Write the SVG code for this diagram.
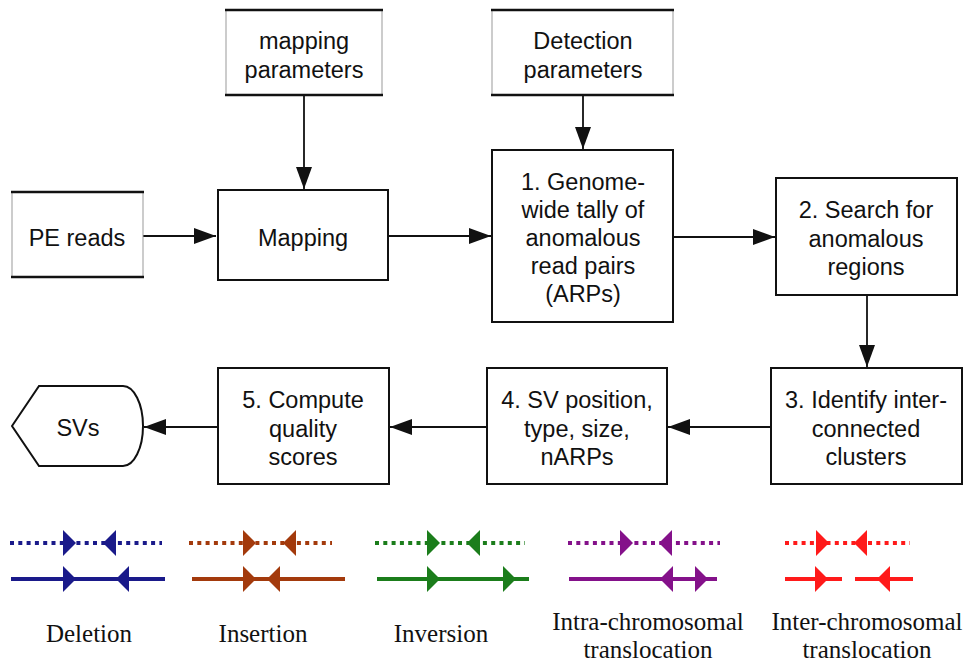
<svg xmlns="http://www.w3.org/2000/svg" width="969" height="667" viewBox="0 0 969 667">
<style>
.bg{fill:#fff}
.box{fill:#fff;stroke:#111;stroke-width:2}
.side{stroke:#999;stroke-width:1}
.tb{stroke:#111;stroke-width:2.6}
.t{font-family:"Liberation Sans",Arial,Helvetica,sans-serif;font-size:23.5px;fill:#111;text-anchor:middle}
.lg{font-family:"Liberation Serif","Times New Roman",serif;font-size:25px;fill:#111;text-anchor:middle}
.c{stroke:#111;stroke-width:1.8;fill:none;marker-end:url(#ah)}
.dot{stroke-width:4;stroke-dasharray:4 4.3;fill:none}
.sol{stroke-width:4;fill:none}
</style>
<defs>
<marker id="ah" markerUnits="userSpaceOnUse" markerWidth="22" markerHeight="16" refX="22" refY="8" orient="auto">
<path d="M0,0 L22,8 L0,16 Z" fill="#111"/>
</marker>
<path id="ar" d="M0,-13 L13,0 L0,13 Z"/>
<path id="al" d="M0,-13 L-13,0 L0,13 Z"/>
</defs>
<rect class="bg" x="0" y="0" width="969" height="667"/>

<g id="connectors">
<line class="c" x1="143" y1="236" x2="216" y2="236"/>
<line class="c" x1="304" y1="95" x2="304" y2="189"/>
<line class="c" x1="388" y1="236" x2="491" y2="236"/>
<line class="c" x1="583" y1="95" x2="583" y2="149"/>
<line class="c" x1="673" y1="237" x2="775" y2="237"/>
<line class="c" x1="867" y1="295" x2="867" y2="367"/>
<line class="c" x1="771" y1="427" x2="668" y2="427"/>
<line class="c" x1="487" y1="427" x2="390" y2="427"/>
<line class="c" x1="218" y1="427" x2="144" y2="427"/>
</g>

<g id="mapping-parameters">
<rect x="226" y="10" width="156" height="85" fill="#fff"/>
<line class="side" x1="226" y1="10" x2="226" y2="95"/>
<line class="side" x1="382" y1="10" x2="382" y2="95"/>
<line class="tb" x1="225" y1="10" x2="383" y2="10"/>
<line class="tb" x1="225" y1="95" x2="383" y2="95"/>
<text class="t" x="304" y="49">mapping</text>
<text class="t" x="304" y="78">parameters</text>
</g>

<g id="detection-parameters">
<rect x="492" y="10" width="181" height="85" fill="#fff"/>
<line class="side" x1="492" y1="10" x2="492" y2="95"/>
<line class="side" x1="673" y1="10" x2="673" y2="95"/>
<line class="tb" x1="491" y1="10" x2="674" y2="10"/>
<line class="tb" x1="491" y1="95" x2="674" y2="95"/>
<text class="t" x="583" y="49">Detection</text>
<text class="t" x="583" y="78">parameters</text>
</g>

<g id="pe-reads">
<rect x="12" y="192" width="131" height="85" fill="#fff"/>
<line class="side" x1="12" y1="192" x2="12" y2="277"/>
<line class="side" x1="143" y1="192" x2="143" y2="277"/>
<line class="tb" x1="11" y1="192" x2="144" y2="192"/>
<line class="tb" x1="11" y1="277" x2="144" y2="277"/>
<text class="t" x="77" y="246">PE reads</text>
</g>

<g id="mapping">
<rect class="box" x="218" y="190" width="170" height="90"/>
<text class="t" x="303" y="246">Mapping</text>
</g>

<g id="tally">
<rect class="box" x="492" y="150" width="181" height="172"/>
<text class="t" x="583" y="190">1. Genome-</text>
<text class="t" x="583" y="218">wide tally of</text>
<text class="t" x="583" y="246">anomalous</text>
<text class="t" x="583" y="274">read pairs</text>
<text class="t" x="583" y="302">(ARPs)</text>
</g>

<g id="search">
<rect class="box" x="776" y="178" width="181" height="117"/>
<text class="t" x="866" y="218">2. Search for</text>
<text class="t" x="866" y="247">anomalous</text>
<text class="t" x="866" y="275">regions</text>
</g>

<g id="identify">
<rect class="box" x="771" y="368" width="191" height="116"/>
<text class="t" x="866" y="408">3. Identify inter-</text>
<text class="t" x="866" y="437">connected</text>
<text class="t" x="866" y="465">clusters</text>
</g>

<g id="sv-position">
<rect class="box" x="487" y="368" width="180" height="116"/>
<text class="t" x="577" y="408">4. SV position,</text>
<text class="t" x="577" y="437">type, size,</text>
<text class="t" x="577" y="465">nARPs</text>
</g>

<g id="quality">
<rect class="box" x="218" y="368" width="171" height="116"/>
<text class="t" x="303" y="408">5. Compute</text>
<text class="t" x="303" y="437">quality</text>
<text class="t" x="303" y="465">scores</text>
</g>

<g id="svs">
<path class="box" d="M12,426 L39,386 L123,386 A20,40 0 0 1 123,466 L39,466 Z"/>
<text class="t" x="78" y="436">SVs</text>
</g>

<g id="legend-deletion" stroke="#1a1a8a" fill="#1a1a8a">
<line class="dot" x1="10" y1="543" x2="162" y2="543"/>
<use href="#ar" x="63" y="543" stroke="none"/>
<use href="#al" x="116" y="543" stroke="none"/>
<line class="sol" x1="11" y1="579" x2="165" y2="579"/>
<use href="#ar" x="63" y="579" stroke="none"/>
<use href="#al" x="129" y="579" stroke="none"/>
<text class="lg" x="89" y="642" stroke="none">Deletion</text>
</g>

<g id="legend-insertion" stroke="#a33a0c" fill="#a33a0c">
<line class="dot" x1="189" y1="543" x2="332" y2="543"/>
<use href="#ar" x="243" y="543" stroke="none"/>
<use href="#al" x="296" y="543" stroke="none"/>
<line class="sol" x1="192" y1="579" x2="345" y2="579"/>
<use href="#ar" x="243" y="579" stroke="none"/>
<use href="#al" x="280" y="579" stroke="none"/>
<text class="lg" x="263" y="642" stroke="none" fill="#111">Insertion</text>
</g>

<g id="legend-inversion" stroke="#1b7d1b" fill="#1b7d1b">
<line class="dot" x1="375" y1="543" x2="525" y2="543"/>
<use href="#ar" x="427" y="543" stroke="none"/>
<use href="#al" x="480" y="543" stroke="none"/>
<line class="sol" x1="377" y1="579" x2="529" y2="579"/>
<use href="#ar" x="427" y="579" stroke="none"/>
<use href="#ar" x="503" y="579" stroke="none"/>
<text class="lg" x="441" y="642" stroke="none" fill="#111">Inversion</text>
</g>

<g id="legend-intra" stroke="#84118a" fill="#84118a">
<line class="dot" x1="568" y1="543" x2="720" y2="543"/>
<use href="#ar" x="620" y="543" stroke="none"/>
<use href="#al" x="672" y="543" stroke="none"/>
<line class="sol" x1="569" y1="579" x2="717" y2="579"/>
<use href="#al" x="673" y="579" stroke="none"/>
<use href="#ar" x="695" y="579" stroke="none"/>
<text class="lg" x="648" y="630" stroke="none" fill="#111">Intra-chromosomal</text>
<text class="lg" x="648" y="658" stroke="none" fill="#111">translocation</text>
</g>

<g id="legend-inter" stroke="#ff1a1a" fill="#ff1a1a">
<line class="dot" x1="785" y1="543" x2="910" y2="543"/>
<use href="#ar" x="816" y="543" stroke="none"/>
<use href="#al" x="867" y="543" stroke="none"/>
<line class="sol" x1="785" y1="579" x2="842" y2="579"/>
<line class="sol" x1="855" y1="579" x2="913" y2="579"/>
<use href="#ar" x="815" y="579" stroke="none"/>
<use href="#al" x="890" y="579" stroke="none"/>
<text class="lg" x="867" y="630" stroke="none" fill="#111">Inter-chromosomal</text>
<text class="lg" x="867" y="658" stroke="none" fill="#111">translocation</text>
</g>
</svg>
